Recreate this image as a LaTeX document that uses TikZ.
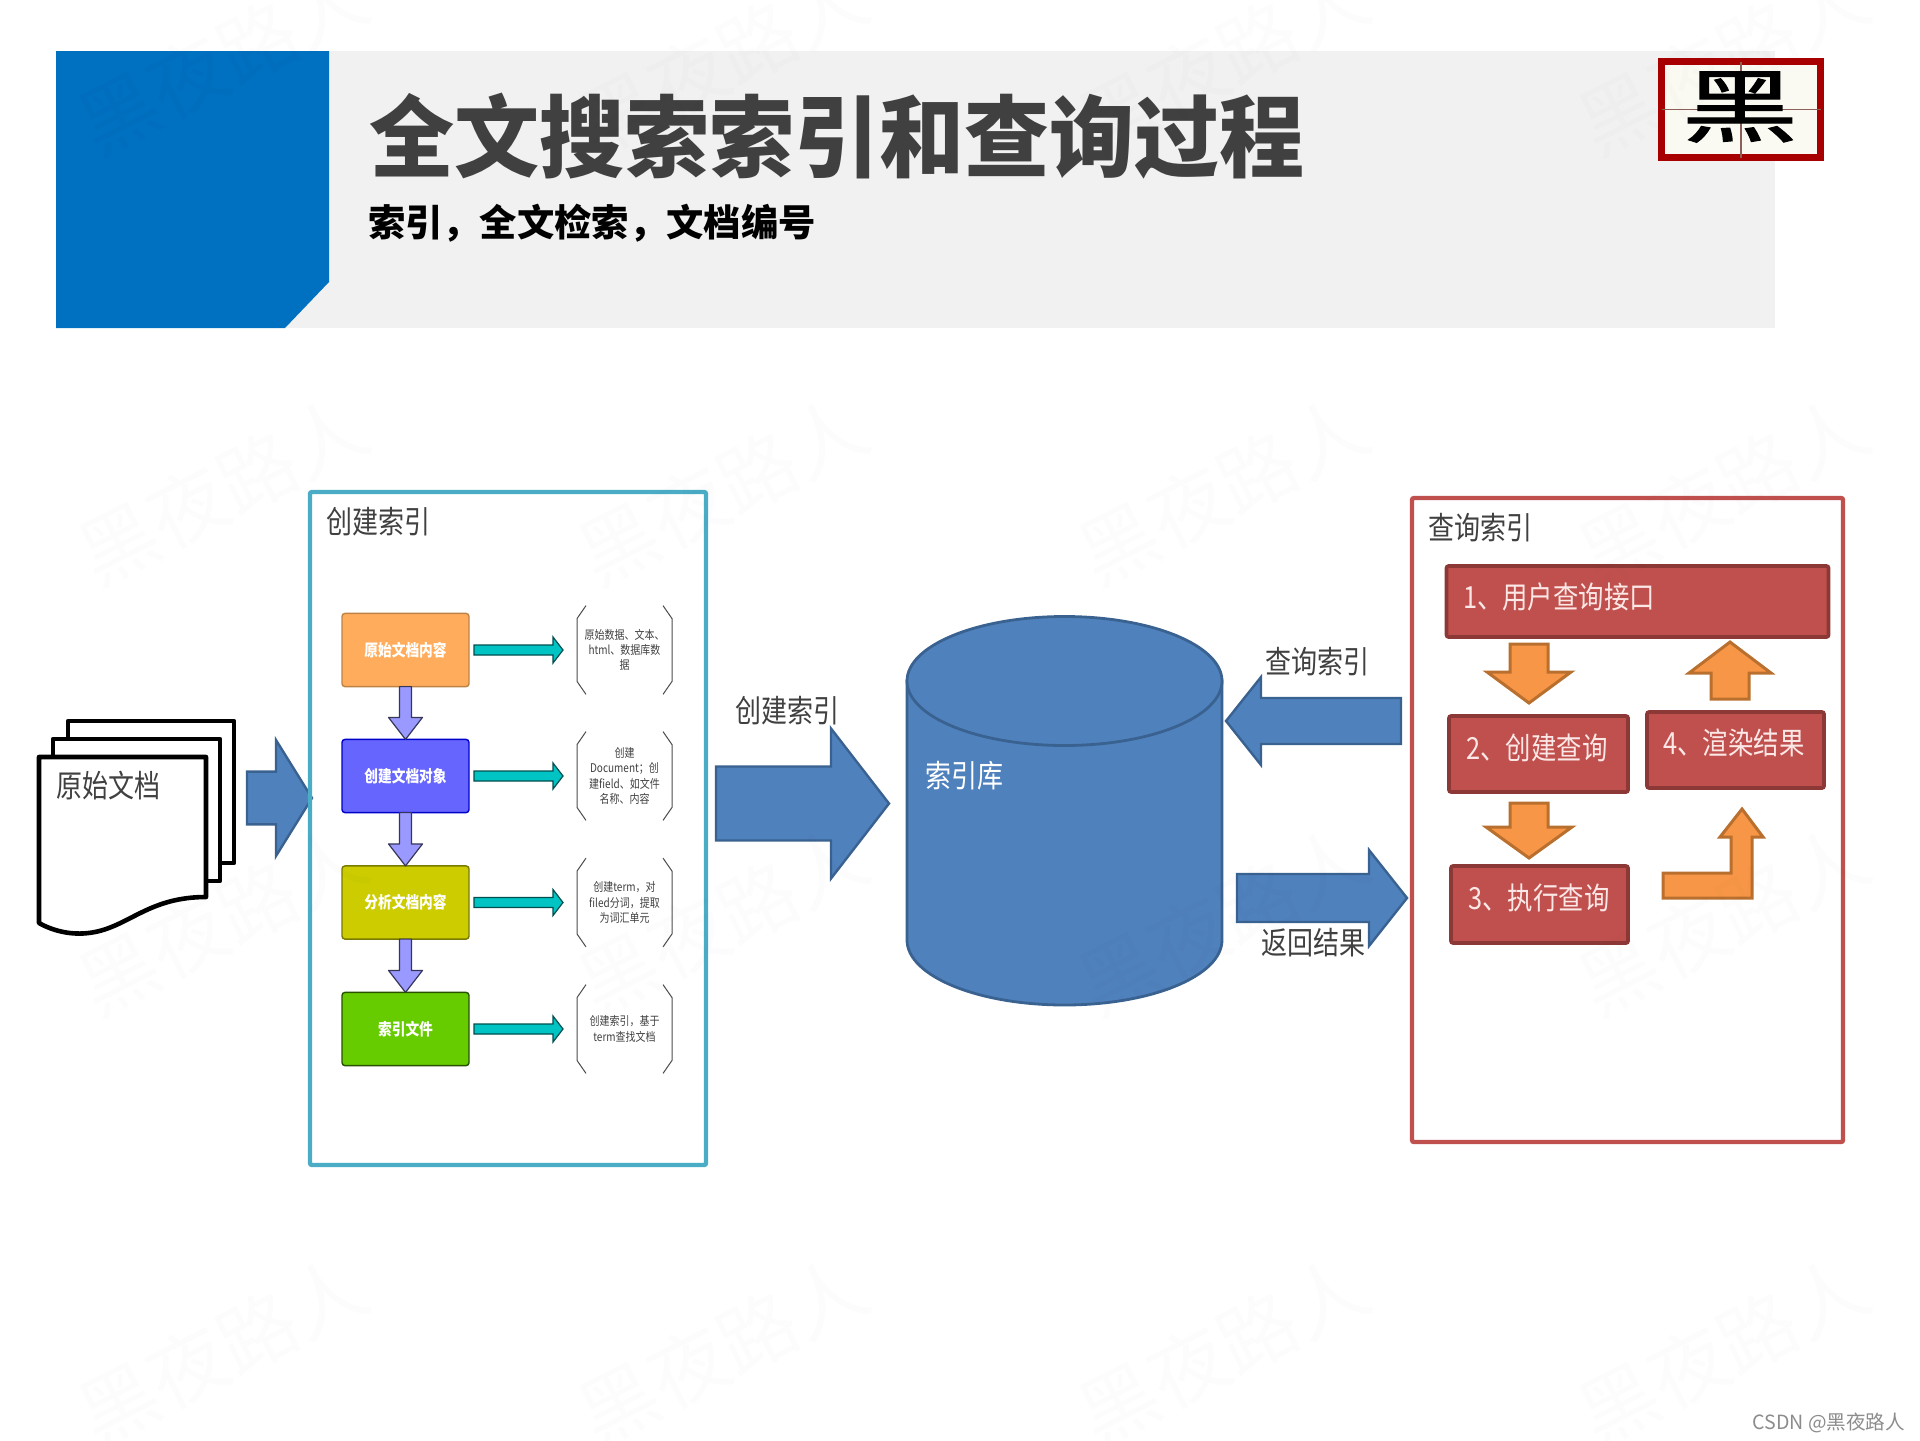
\documentclass[tikz,border=0pt]{standalone}
\usepackage{fontspec}
\setmainfont{Noto Sans CJK SC}
\newfontfamily\logofont{Noto Sans CJK SC}[FakeBold=1.2]
\usetikzlibrary{calc,shapes.geometric}

\definecolor{headblue}{HTML}{0070C0}
\definecolor{headgray}{HTML}{F1F1F1}
\definecolor{logored}{HTML}{A80000}
\definecolor{logopaper}{HTML}{FBFAF2}
\definecolor{logoline}{HTML}{8C6058}
\definecolor{dbblue}{HTML}{4F81BD}
\definecolor{dbline}{HTML}{3A6291}
\definecolor{framecyan}{HTML}{4BACC6}
\definecolor{framered}{HTML}{C0504D}
\definecolor{boxline}{HTML}{8C3836}
\definecolor{arroworange}{HTML}{F79646}
\definecolor{arrowline}{HTML}{B96F2E}
\definecolor{labelgray}{HTML}{404040}
\definecolor{querytext}{HTML}{FBE8E6}
\definecolor{floworange}{HTML}{FFAD5C}
\definecolor{flowblue}{HTML}{6666FF}
\definecolor{flowyellow}{HTML}{CCCC00}
\definecolor{flowgreen}{HTML}{66CC00}
\definecolor{arrowviolet}{HTML}{9999FF}
\definecolor{arrowteal}{HTML}{00C4C4}

\tikzset{blockarrow/.style n args={3}{to path={
  -- ($(\tikztostart)!#1!-90:(\tikztotarget)$)
  -- ($(\tikztotarget)!#3!(\tikztostart)!#1!90:(\tikztostart)$)
  -- ($(\tikztotarget)!#3!(\tikztostart)!#2!90:(\tikztostart)$)
  -- (\tikztotarget)
  -- ($(\tikztotarget)!#3!(\tikztostart)!#2!-90:(\tikztostart)$)
  -- ($(\tikztotarget)!#3!(\tikztostart)!#1!-90:(\tikztostart)$)
  -- ($(\tikztostart)!#1!90:(\tikztotarget)$) -- cycle}}}

\tikzstyle{main}     = [inner sep=0pt, outer sep=0pt, text centered]
\tikzstyle{tall}     = [main, transform shape, yscale=1.2]
\tikzstyle{labeltxt} = [tall, font=\fontsize{13}{13}\selectfont, text=labelgray]
\tikzstyle{flowbox}  = [tall, rounded corners=1.5pt, line width=0.7pt, minimum width=63.5pt, minimum height=30.5pt, text=white, font=\fontsize{6.85}{7}\selectfont\bfseries]
\tikzstyle{corange}  = [fill=floworange, draw=floworange!75!black]
\tikzstyle{cblue}    = [fill=flowblue, draw=blue!80!black]
\tikzstyle{cyellow}  = [fill=flowyellow, draw=flowyellow!60!black]
\tikzstyle{cgreen}   = [fill=flowgreen, draw=flowgreen!40!black]
\tikzstyle{notebox}  = [tall, minimum width=47.5pt, minimum height=37pt, text=labelgray, align=center, font=\fontsize{5}{6.4}\selectfont]
\tikzstyle{bracket}  = [line width=0.5pt, draw=black!70]
\tikzstyle{frame}    = [line width=2.2pt, rounded corners=1pt]
\tikzstyle{querybox} = [main, fill=framered, draw=boxline, line width=1.8pt, rounded corners=1pt]
\tikzstyle{querytxt} = [tall, font=\fontsize{12.7}{13}\selectfont, text=querytext]
\tikzstyle{pagebox}  = [line width=2.3pt, draw=black, fill=white, line join=round]
\tikzstyle{bigarrow} = [fill=dbblue, draw=dbline, line width=1.2pt]
\tikzstyle{orangearr}= [fill=arroworange, draw=arrowline, line width=1.5pt]
\tikzstyle{downarr}  = [fill=arrowviolet, draw=arrowviolet!35!black, line width=0.6pt, line join=round]
\tikzstyle{tealarr}  = [fill=arrowteal, draw=arrowteal!40!black, line width=0.6pt]
\tikzstyle{dbshape}  = [fill=dbblue, draw=dbline, line width=1.4pt]

\begin{document}
\begin{tikzpicture}[x=0.5pt,y=-0.5pt]
  \useasboundingbox (0,0) rectangle (1920,1440);

  \fill[headgray] (280,51) rectangle (1775,328);
  \fill[headblue] (56,51) -- (329,51) -- (329,282) -- (285,328) -- (56,328) -- cycle;
  \draw
    node[main, transform shape, yscale=1.05, anchor=west, text=labelgray, font=\fontsize{42.5}{43}\selectfont\bfseries] (title) at (369,136) {全文搜索索引和查询过程}
    node[main, anchor=west, text=black, font=\fontsize{18.65}{19}\selectfont\bfseries] (subtitle) at (368,223) {索引，全文检索，文档编号};

  \node[main, fill=logopaper, draw=logored, line width=3.5pt, minimum width=79.5pt, minimum height=48pt] (logo) at (1741,109.5) {};
  \draw[logoline, line width=0.6pt] (logo.north) -- (logo.south) (logo.west) -- (logo.east);
  \node[main, transform shape, xscale=1.45, font=\fontsize{40}{40}\logofont] (logochar) at (1740,107) {黑};

  \draw[pagebox] (68,721) rectangle (234,863);
  \draw[pagebox] (53,739) rectangle (220,881);
  \draw[pagebox] (39,757) -- (206,757) -- (206,897)
     .. controls (150,897) and (130,925) .. (95,932)
     .. controls (75,936) and (55,932) .. (39,923) -- cycle;
  \node[labeltxt] (doclabel) at (108,786) {原始文档};

  \coordinate (doctail) at (247,798);
  \coordinate (doctip) at (312,798);
  \draw[bigarrow, blockarrow={13.2pt}{29pt}{18pt}] (doctail) to (doctip);

  \draw[frame, framecyan] (310,492) rectangle (706,1165);
  \node[labeltxt] (createlabel) at (378,522) {创建索引};

  \draw
    node[flowbox, corange] (flow1) at (405.5,650) {原始文档内容}
    node[flowbox, cblue]   (flow2) at (405.5,776) {创建文档对象}
    node[flowbox, cyellow] (flow3) at (405.5,902.5) {分析文档内容}
    node[flowbox, cgreen]  (flow4) at (405.5,1029) {索引文件};

  \draw
    node[notebox] (note1) at (624.5,650) {原始数据、文本、\\html、数据库数\\据}
    node[notebox] (note2) at (624.5,776) {创建\\Document；创\\建field、如文件\\名称、内容}
    node[notebox] (note3) at (624.5,902.5) {创建term，对\\filed分词，提取\\为词汇单元}
    node[notebox] (note4) at (624.5,1029) {创建索引，基于\\term查找文档};

  \foreach \n in {1,2,3} {
    \pgfmathtruncatemacro{\m}{\n+1}
    \draw[downarr, blockarrow={3pt}{8.5pt}{11pt}] (flow\n.south) to (flow\m.north);
  }
  \foreach \n in {1,2,3,4} {
    \draw[tealarr, blockarrow={2.5pt}{6.5pt}{5pt}] ([xshift=2.5pt]flow\n.east) to ([xshift=-7pt]note\n.west);
    \draw[bracket] ([xshift=4.5pt]note\n.north west) -- ([yshift=-6.5pt]note\n.north west)
      -- ([yshift=6.5pt]note\n.south west) -- ([xshift=4.5pt]note\n.south west);
    \draw[bracket] ([xshift=-4.5pt]note\n.north east) -- ([yshift=-6.5pt]note\n.north east)
      -- ([yshift=6.5pt]note\n.south east) -- ([xshift=-4.5pt]note\n.south east);
  }

  \draw[dbshape] (907,681) -- (907,940) arc[start angle=180, end angle=360, x radius=78.75pt, y radius=32.5pt] -- (1222,681) -- cycle;
  \node[ellipse, dbshape, minimum width=157.5pt, minimum height=64.5pt, inner sep=0pt] (indexdb) at (1064.5,681) {};
  \node[labeltxt, text=white] (dblabel) at (964,776) {索引库};

  \coordinate (buildtail) at (716,803.5);
  \coordinate (buildtip) at (889,803.5);
  \draw[bigarrow, blockarrow={18.5pt}{37.5pt}{29pt}] (buildtail) to (buildtip);
  \node[labeltxt] (buildlabel) at (787,711) {创建索引};

  \coordinate (asktail) at (1401,721);
  \coordinate (asktip) at (1226,721);
  \draw[bigarrow, blockarrow={11.5pt}{22pt}{17.5pt}] (asktail) to (asktip);
  \node[labeltxt] (asklabel) at (1317,662) {查询索引};

  \coordinate (backtail) at (1237,898);
  \coordinate (backtip) at (1407,898);
  \draw[bigarrow, blockarrow={12pt}{24pt}{19pt}] (backtail) to (backtip);
  \node[labeltxt] (backlabel) at (1313,943) {返回结果};

  \draw[frame, framered] (1412,498) rectangle (1843,1142);
  \node[labeltxt] (querylabel) at (1480,528) {查询索引};

  \draw
    node[querybox, minimum width=191pt, minimum height=35.5pt] (query1) at (1637.5,601.5) {}
    node[querybox, minimum width=89.5pt, minimum height=38pt] (query2) at (1538.5,754) {}
    node[querybox, minimum width=88.5pt, minimum height=38.5pt] (query3) at (1539.5,904.5) {}
    node[querybox, minimum width=88.5pt, minimum height=38pt] (query4) at (1735.5,750) {};
  \draw
    node[querytxt, anchor=west] (querytxt1) at (1463,597) {1、用户查询接口}
    node[querytxt] (querytxt2) at (1537,748) {2、创建查询}
    node[querytxt] (querytxt3) at (1539,898) {3、执行查询}
    node[querytxt] (querytxt4) at (1734,743) {4、渲染结果};

  \coordinate (down1top) at (1529,644);
  \coordinate (down1tip) at (1529,703);
  \coordinate (down2top) at (1529,803);
  \coordinate (down2tip) at (1529,858);
  \coordinate (uptail) at (1730,699);
  \coordinate (uptip) at (1730,642);
  \draw[orangearr, blockarrow={9.5pt}{21pt}{15.5pt}] (down1top) to (down1tip);
  \draw[orangearr, blockarrow={9.5pt}{21.5pt}{15.5pt}] (down2top) to (down2tip);
  \draw[orangearr, blockarrow={9.5pt}{20.5pt}{15.5pt}] (uptail) to (uptip);
  \draw[orangearr] (1663,873) -- (1731,873) -- (1731,837) -- (1720,837) -- (1742,809)
     -- (1763,837) -- (1752,837) -- (1752,898) -- (1663,898) -- cycle;

  \node[main, anchor=east, text=black!45, font=\fontsize{9.8}{10}\selectfont] (csdn) at (1905,1423) {CSDN @黑夜路人};

  \foreach \x in {223,723,1223,1723}
    \foreach \y in {60,490,920,1350}
      \node[main, rotate=27, text=black, text opacity=0.012, font=\fontsize{39}{39}\selectfont] at (\x,\y) {黑夜路人};
\end{tikzpicture}
\end{document}
